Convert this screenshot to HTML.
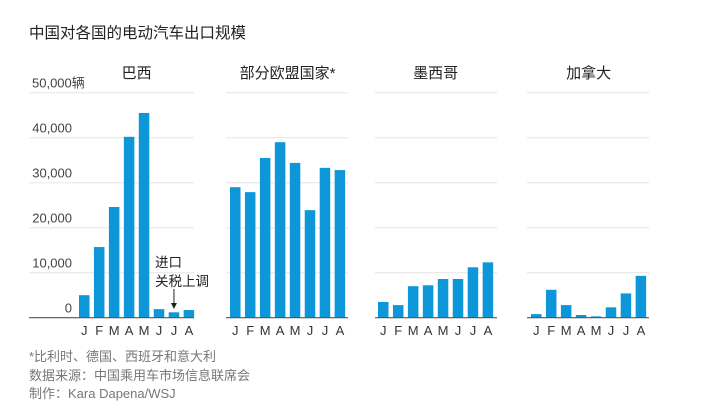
<!DOCTYPE html>
<html><head><meta charset="utf-8"><style>
body{margin:0;background:#fff;width:720px;height:406px;overflow:hidden;font-family:"Liberation Sans","Noto Sans CJK SC",sans-serif}
svg text{font-family:"Liberation Sans","Noto Sans CJK SC",sans-serif}
</style></head><body>
<svg id="c" width="720" height="406">
<text x="29" y="38" font-size="15.5" fill="#222">中国对各国的电动汽车出口规模</text>
<text x="29" y="361" font-size="13" fill="#777">*比利时、德国、西班牙和意大利</text>
<text x="29" y="380" font-size="13" fill="#777">数据来源：中国乘用车市场信息联席会</text>
<text x="29" y="398" font-size="13" fill="#777">制作：Kara Dapena/WSJ</text>
</svg>
<script>
const months=["J","F","M","A","M","J","J","A"];
const panelTitles=["巴西","部分欧盟国家*","墨西哥","加拿大"];
const brazil=[5000,15700,24600,40200,45500,1900,1200,1700];
const eu=[29000,27900,35500,39000,34400,23900,33300,32800];
const mexico=[3500,2800,7000,7200,8600,8600,11200,12300];
const canada=[800,6200,2800,600,300,2300,5400,9300];
const yTicks=[0,10000,20000,30000,40000,50000];
const yTickLabels=["0","10,000","20,000","30,000","40,000","50,000辆"];
const series=[brazil,eu,mexico,canada];
const NS="http://www.w3.org/2000/svg";
const svg=document.getElementById("c");
const base=317.7, pxPer=45/10000;
const y=v=>base-v*pxPer;
const panels=[{gx0:29,gx1:194,bx0:79},{gx0:226,gx1:348,bx0:230},{gx0:375,gx1:497,bx0:378},{gx0:527,gx1:649,bx0:531}];
const pitch=14.95,bw=10.5;
function mk(tag,attrs){const e=document.createElementNS(NS,tag);for(const k in attrs)e.setAttribute(k,attrs[k]);svg.appendChild(e);return e;}
panels.forEach((p,pi)=>{
  yTicks.forEach((t,ti)=>{
    if(t===0)return;
    const g=mk("line",{x1:p.gx0,x2:p.gx1,y1:y(t),y2:y(t),stroke:"#e6e6e6","stroke-width":1});
    
    
  });
  const cx=(p.bx0+p.bx0+7*pitch+bw)/2;
  const tt=mk("text",{x:cx,y:78,"font-size":15,fill:"#222","text-anchor":"middle"});
  tt.textContent=panelTitles[pi];
  
  
  series[pi].forEach((v,i)=>{
    const x=p.bx0+i*pitch;
    const r=mk("rect",{x:x,y:y(v),width:bw,height:base-y(v),fill:"#0d96d8"});
    
    
    const m=mk("text",{x:x+bw/2,y:335,"font-size":13,fill:"#333","text-anchor":"middle"});
    m.textContent=months[i];
    
    
  });
  const b=mk("line",{x1:p.gx0,x2:p.gx1,y1:base,y2:base,stroke:"#555","stroke-width":1.2});
  
  
});
yTicks.forEach((t,i)=>{
  const l=mk("text",{x:i===5?32:72,y:y(t)-5,"font-size":13,fill:"#444","text-anchor":i===5?"start":"end"});
  l.textContent=yTickLabels[i];
  
  
});
const a1=mk("text",{x:155,y:267,"font-size":13.5,fill:"#222"});a1.textContent="进口";


const a2=mk("text",{x:155,y:286,"font-size":13.5,fill:"#222"});a2.textContent="关税上调";


const ax=panels[0].bx0+6*pitch+bw/2;
const al=mk("line",{x1:ax,x2:ax,y1:289,y2:305,stroke:"#222","stroke-width":1});


const ah=mk("path",{d:`M${ax-3},303 L${ax+3},303 L${ax},309 Z`,fill:"#222"});


</script>
</body></html>
